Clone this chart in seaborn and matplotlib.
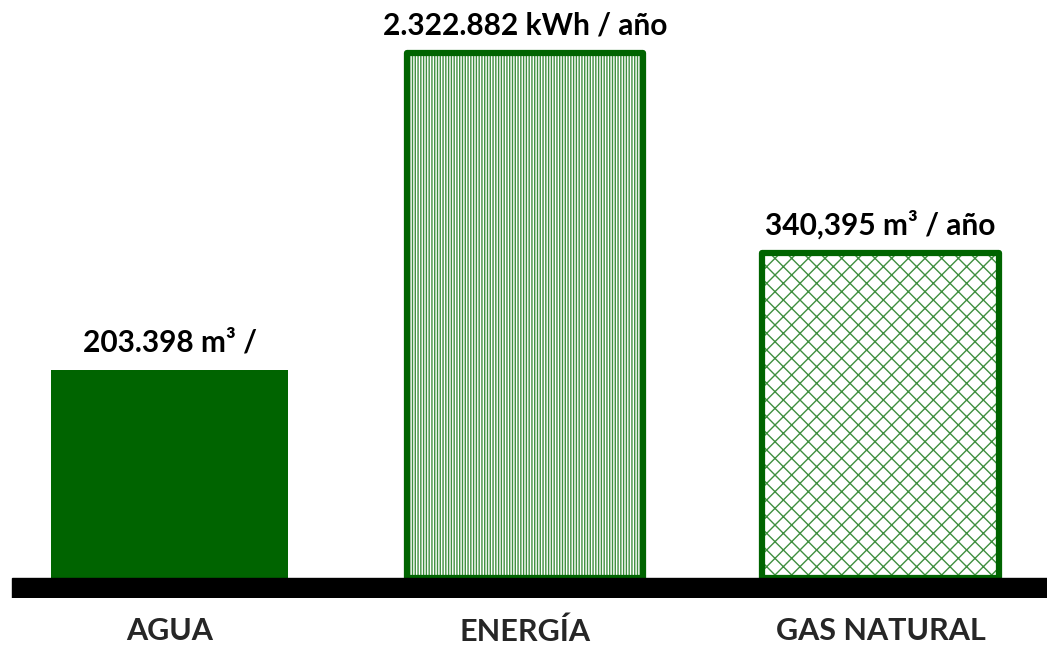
import numpy as np
import pandas as pd
import seaborn as sns
import matplotlib.pyplot as plt

sns.set_theme(style="white")
plt.rcParams['font.family'] = ['Lato', 'DejaVu Sans']

# ------------------------ data ------------------------
categories = ["AGUA", "ENERGÍA", "GAS NATURAL"]
bar_heights = [208, 525, 325]          # drawn heights (bars are not to a common scale)
value_labels = ["203.398 m³ /", "2.322.882 kWh / año", "340,395 m³ / año"]
hatches = [None, "||||||", "xx"]
# ------------------------------------------------------

DARK = "#006400"
LIGHT = "#3f8f3f"

df = pd.DataFrame({"cat": categories, "h": bar_heights})

fig = plt.figure(figsize=(10.47, 6.45), dpi=100)
ax = fig.add_axes([0, 47 / 645, 1, 598 / 645])

# fill / hatch layer
sns.barplot(data=df, x="cat", y="h", ax=ax, width=0.665, color="white",
            linewidth=0, saturation=1)
plt.rcParams['hatch.linewidth'] = 1.2
for patch, hatch in zip(ax.patches, hatches):
    if hatch is None:
        patch.set_facecolor(DARK)
        patch.set_edgecolor(DARK)
    else:
        patch.set_facecolor("white")
        patch.set_hatch(hatch)
        patch.set_edgecolor(LIGHT)

# thick outline for the hatched bars
for patch, hatch in zip(list(ax.patches), hatches):
    if hatch is not None:
        x, y = patch.get_xy()
        ax.add_patch(plt.Rectangle((x, y), patch.get_width(), patch.get_height(),
                                   fill=False, edgecolor=DARK, linewidth=4.5,
                                   joinstyle="round", zorder=3))

for i, (h, lab) in enumerate(zip(bar_heights, value_labels)):
    ax.annotate(lab, (i, h), xytext=(0, 10), textcoords="offset points",
                ha="center", va="bottom", fontsize=21.5, fontweight="bold",
                color="black")

# thick black baseline
ax.axhspan(-20, 0, xmin=12 / 1047, xmax=1, color="black", zorder=4)

ax.set_xlim(-0.477, 2.468)
ax.set_ylim(-20, 578)
for s in ax.spines.values():
    s.set_visible(False)
ax.set_yticks([])
ax.set_xlabel("")
ax.set_ylabel("")
ax.tick_params(axis="x", length=0, pad=14)
for t in ax.get_xticklabels():
    t.set_fontsize(22)
    t.set_fontweight("bold")

fig.savefig("out.png", dpi=100)
